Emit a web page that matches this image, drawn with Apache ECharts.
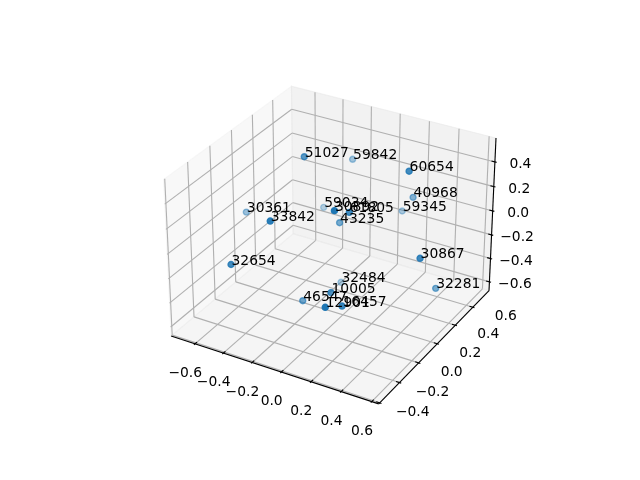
<!DOCTYPE html>
<html><head><meta charset="utf-8"><style>html,body{margin:0;background:#fff;overflow:hidden}#c{width:640px;height:480px}</style>
<script src="https://cdn.jsdelivr.net/npm/echarts@6/dist/echarts.min.js"></script></head><body><div id="c"></div>
<script>
const labels=['51027','59842','60654','40968','59345','59034','30892','61805','43235','30361','33842','32654','30867','32281','32484','10005','46547','12901','16457'];
const xValues=[-0.253,-0.262,0.370,0.222,0.048,-0.417,0.164,0.130,-0.087,-0.708,-0.175,-0.387,0.564,0.510,-0.185,0.118,-0.124,0.256,0.265];
const yValues=[0.184,0.688,0.301,0.592,0.756,0.612,-0.129,0.067,0.293,0.238,-0.251,-0.333,0.121,0.393,0.454,-0.095,-0.025,-0.352,-0.203];
const zValues=[0.549,0.202,0.556,0.106,-0.177,-0.203,0.469,0.310,-0.002,-0.085,0.358,-0.002,0.056,-0.409,-0.656,-0.223,-0.432,-0.096,-0.196];
const xTicks=[-0.6,-0.4,-0.2,0,0.2,0.4,0.6];
const yTicks=[-0.4,-0.2,0,0.2,0.4,0.6];
const zTicks=[-0.6,-0.4,-0.2,0,0.2,0.4];
const xLim=[-0.742,0.617],yLim=[-0.386,0.766],zLim=[-0.651,0.566];

const k=1.8294640721620434/Math.sqrt(41);const A=[4*k,4*k,3*k],R=A.map(v=>v/2);
const el=30*Math.PI/180,az=-60*Math.PI/180;
const W=[Math.cos(el)*Math.cos(az),Math.cos(el)*Math.sin(az),Math.sin(el)];
const n=Math.hypot(W[1],W[0]);const U=[-W[1]/n,W[0]/n,0];
const V=[W[1]*U[2]-W[2]*U[1],W[2]*U[0]-W[0]*U[2],W[0]*U[1]-W[1]*U[0]];
const dot=(a,b)=>a[0]*b[0]+a[1]*b[1]+a[2]*b[2];
function proj(x,y,z){const p=[(x-xLim[0])/(xLim[1]-xLim[0])*A[0]-R[0],(y-yLim[0])/(yLim[1]-yLim[0])*A[1]-R[1],(z-zLim[0])/(zLim[1]-zLim[0])*A[2]-R[2]];
 const w=dot(p,W),f=10-w;return [dot(p,U)/f,dot(p,V)/f,-10/f];}
const ex=(l)=>{const d=(l[1]-l[0])/48;return [l[0]-d,l[1]+d];};
const X=ex(xLim),Y=ex(yLim),Z=ex(zLim);
const seg=(a,b)=>{const p=proj(...a),q=proj(...b);return [p[0],p[1],q[0],q[1]];};
const grid=[],axes=[],tl=[];
xTicks.forEach(t=>{grid.push(seg([t,Y[0],Z[0]],[t,Y[1],Z[0]]),seg([t,Y[1],Z[0]],[t,Y[1],Z[1]]));});
yTicks.forEach(t=>{grid.push(seg([X[1],t,Z[0]],[X[0],t,Z[0]]),seg([X[0],t,Z[0]],[X[0],t,Z[1]]));});
zTicks.forEach(t=>{grid.push(seg([X[0],Y[0],t],[X[0],Y[1],t]),seg([X[0],Y[1],t],[X[1],Y[1],t]));});
axes.push(seg([X[0],Y[0],Z[0]],[X[1],Y[0],Z[0]]),seg([X[1],Y[0],Z[0]],[X[1],Y[1],Z[0]]),seg([X[1],Y[1],Z[0]],[X[1],Y[1],Z[1]]));
const dx=(xLim[1]-xLim[0])/12,dy=(yLim[1]-yLim[0])/12;
const lab=t=>(t<0?'\u2212':'')+Math.abs(t).toFixed(1);
xTicks.forEach(t=>{axes.push(seg([t,Y[0]-.1*dy,Z[0]],[t,Y[0]+.2*dy,Z[0]]));const p=proj(t,Y[0],Z[0]);tl.push([p[0],p[1],lab(t),-9.7,29.4]);});
yTicks.forEach(t=>{axes.push(seg([X[1]+.1*dx,t,Z[0]],[X[1]-.2*dx,t,Z[0]]));const p=proj(X[1],t,Z[0]);tl.push([p[0],p[1],lab(t),33,9.6]);});
zTicks.forEach(t=>{axes.push(seg([X[1]+.1*dx,Y[1],t],[X[1]-.2*dx,Y[1],t]));const p=proj(X[1],Y[1],t);tl.push([p[0],p[1],lab(t),25.5,2.7]);});
const poly=(c)=>c.map(q=>{const p=proj(...q);return [p[0],p[1]];});
const panes=[
 {pts:poly([[X[0],Y[0],Z[0]],[X[0],Y[1],Z[0]],[X[0],Y[1],Z[1]],[X[0],Y[0],Z[1]]]),c:'rgba(242,242,242,.5)'},
 {pts:poly([[X[0],Y[1],Z[0]],[X[1],Y[1],Z[0]],[X[1],Y[1],Z[1]],[X[0],Y[1],Z[1]]]),c:'rgba(230,230,230,.5)'},
 {pts:poly([[X[0],Y[0],Z[0]],[X[1],Y[0],Z[0]],[X[1],Y[1],Z[0]],[X[0],Y[1],Z[0]]]),c:'rgba(236,236,236,.5)'}];
const P=labels.map((id,i)=>{const p=proj(xValues[i],yValues[i],zValues[i]);return {id,x:p[0],y:p[1],d:p[2]};});
const dmin=Math.min(...P.map(p=>p.d)),dmax=Math.max(...P.map(p=>p.d));
const sorted=[...P].sort((a,b)=>b.d-a.d);
const lineSeries=(data,color,z)=>({type:'custom',coordinateSystem:'cartesian2d',silent:true,z,clip:false,data,encode:{x:0,y:1},
 renderItem:(p,api)=>{const a=api.coord([api.value(0),api.value(1)]),b=api.coord([api.value(2),api.value(3)]);
  return {type:'line',shape:{x1:a[0],y1:a[1],x2:b[0],y2:b[1]},style:{stroke:color,lineWidth:1.11,fill:null}};}});
const txt=(s,x,y,align,va)=>({type:'text',style:{text:s,x,y,align:align,verticalAlign:va,fill:'#000',fontFamily:'DejaVu Sans',fontSize:13.89}});
const chart=echarts.init(document.getElementById('c'),null,{renderer:'canvas',width:640,height:480});
chart.setOption({animation:false,backgroundColor:'#fff',
 grid:{left:143.2,top:57.6,width:369.6,height:369.6},
 xAxis:{type:'value',min:-0.095,max:0.09,show:false},yAxis:{type:'value',min:-0.095,max:0.09,show:false},
 series:[
 {type:'custom',coordinateSystem:'cartesian2d',silent:true,z:1,clip:false,data:panes.map((p,i)=>[p.pts[0][0],p.pts[0][1],i]),encode:{x:0,y:1},
  renderItem:(p,api)=>{const q=panes[api.value(2)];return {type:'polygon',shape:{points:q.pts.map(c=>api.coord(c))},style:{fill:q.c,stroke:q.c,lineWidth:1.11}};}},
 lineSeries(grid,'#b0b0b0',2),lineSeries(axes,'#000',3),
 {type:'scatter',z:4,silent:true,symbol:'circle',symbolSize:6,clip:false,
  data:sorted.map(p=>({value:[p.x,p.y],itemStyle:{color:'#1f77b4',borderColor:'#1f77b4',borderWidth:1.4,opacity:1-.7*(p.d-dmin)/(dmax-dmin)}}))},
 {type:'custom',coordinateSystem:'cartesian2d',silent:true,z:5,clip:false,data:tl.map(t=>[t[0],t[1]]),encode:{x:0,y:1},
  renderItem:(p,api)=>{const t=tl[p.dataIndex];const a=api.coord([t[0],t[1]]);return txt(t[2],a[0]+t[3],a[1]+t[4],'center','middle');}},
 {type:'custom',coordinateSystem:'cartesian2d',silent:true,z:6,clip:false,data:P.map(p=>[p.x,p.y]),encode:{x:0,y:1},
  renderItem:(p,api)=>{const q=P[p.dataIndex];const a=api.coord([q.x,q.y]);return txt(q.id,a[0]+.5,a[1]+3.5,'left','bottom');}}
 ]});
</script></body></html>
